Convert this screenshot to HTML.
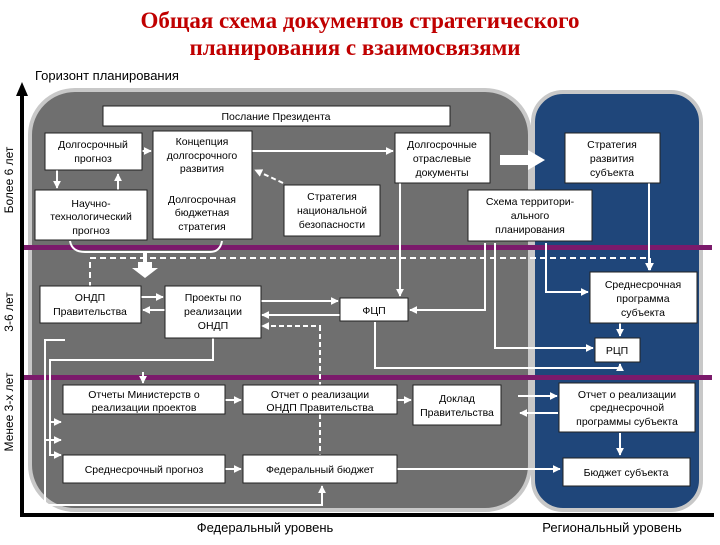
<!DOCTYPE html>
<html><head><meta charset="utf-8"><style>
body{margin:0;background:#fff}
svg text{font-family:"Liberation Sans",sans-serif}
</style></head><body>
<svg width="720" height="540" viewBox="0 0 720 540" xmlns="http://www.w3.org/2000/svg">
<defs>
<marker id="a" viewBox="0 0 10 10" refX="9" refY="5" markerWidth="4" markerHeight="4" orient="auto"><path d="M0,0L10,5L0,10z" fill="#fff"/></marker>
</defs>
<text x="360" y="28" text-anchor="middle" font-family="Liberation Serif,serif" font-weight="bold" font-size="23" fill="#c00000" style="font-family:'Liberation Serif',serif">Общая схема документов стратегического</text>
<text x="355" y="55" text-anchor="middle" font-weight="bold" font-size="23" fill="#c00000" style="font-family:'Liberation Serif',serif">планирования с взаимосвязями</text>
<text x="35" y="80" font-size="13" fill="#000">Горизонт планирования</text>
<!-- panels -->
<rect x="30" y="90" width="500" height="420" rx="45" fill="#6f6f6f" stroke="#c8c8c8" stroke-width="4"/>
<rect x="533" y="92" width="168" height="418" rx="30" fill="#1f467a" stroke="#c8c8c8" stroke-width="4"/>
<!-- purple lines -->
<rect x="22" y="245" width="690" height="5" fill="#7b1a6b"/>
<rect x="22" y="375" width="690" height="5" fill="#7b1a6b"/>
<!-- axes -->
<line x1="22" y1="92" x2="22" y2="516" stroke="#000" stroke-width="4"/>
<path d="M22,82 L16,96 L28,96z" fill="#000"/>
<line x1="20" y1="515" x2="714" y2="515" stroke="#000" stroke-width="4"/>
<text transform="translate(13,180) rotate(-90)" text-anchor="middle" font-size="12">Более 6 лет</text>
<text transform="translate(13,312) rotate(-90)" text-anchor="middle" font-size="12">3-6 лет</text>
<text transform="translate(13,412) rotate(-90)" text-anchor="middle" font-size="12">Менее 3-х лет</text>
<text x="265" y="532" text-anchor="middle" font-size="13">Федеральный уровень</text>
<text x="612" y="532" text-anchor="middle" font-size="13">Региональный уровень</text>
<!-- connectors -->
<g stroke="#fff" stroke-width="2" fill="none">
<path d="M142,151H151" marker-end="url(#a)"/>
<path d="M57,170V188" marker-end="url(#a)"/>
<path d="M118,190V174" marker-end="url(#a)"/>
<path d="M252,151H393" marker-end="url(#a)"/>
<path d="M283,183L255,170" stroke-dasharray="5,3" marker-end="url(#a)"/>
<path d="M70,241Q72,252 85,252H210Q220,252 222,241"/>
<path d="M145,252V262" stroke-width="4"/>
<path d="M90,288V258H650V270" stroke-dasharray="6,4" marker-end="url(#a)"/>
<path d="M141,297H163" marker-end="url(#a)"/>
<path d="M165,310H143" marker-end="url(#a)"/>
<path d="M260,301H338" marker-end="url(#a)"/>
<path d="M350,315H262" marker-end="url(#a)"/>
<path d="M320,330V326H262" stroke-dasharray="5,3" marker-end="url(#a)"/>
<path d="M320,326V460" stroke-dasharray="5,3"/>
<path d="M400,183V296" marker-end="url(#a)"/>
<path d="M485,243V310H410" marker-end="url(#a)"/>
<path d="M495,243V348H593" marker-end="url(#a)"/>
<path d="M546,243V292H588" marker-end="url(#a)"/>
<path d="M649,183V270" marker-end="url(#a)"/>
<path d="M620,323V336" marker-end="url(#a)"/>
<path d="M375,322V368H620V364" marker-end="url(#a)"/>
<path d="M213,338V360H50V455H61" marker-end="url(#a)"/>
<path d="M50,422H61" marker-end="url(#a)"/>
<path d="M65,340H45V440H61" marker-end="url(#a)"/>
<path d="M143,372V383" marker-end="url(#a)"/>
<path d="M225,400H241" marker-end="url(#a)"/>
<path d="M397,400H411" marker-end="url(#a)"/>
<path d="M518,396H557" marker-end="url(#a)"/>
<path d="M558,413H520" marker-end="url(#a)"/>
<path d="M620,433V455" marker-end="url(#a)"/>
<path d="M225,469H241" marker-end="url(#a)"/>
<path d="M397,469H560" marker-end="url(#a)"/>
<path d="M45,440V505H322V486" marker-end="url(#a)"/>
</g>
<path d="M500,155H528V150L545,160L528,170V165H500z" fill="#fff"/>
<path d="M138,262H152V268H158L145,278L132,268H138z" fill="#fff"/>
<!-- boxes -->
<g fill="#fff" stroke="#222" stroke-width="1">
<rect x="103" y="106" width="347" height="20"/>
<rect x="45" y="133" width="97" height="37"/>
<rect x="35" y="190" width="112" height="50"/>
<rect x="153" y="131" width="99" height="108"/>
<rect x="284" y="185" width="96" height="51"/>
<rect x="395" y="133" width="95" height="50"/>
<rect x="565" y="133" width="95" height="50"/>
<rect x="468" y="190" width="124" height="51"/>
<rect x="40" y="286" width="101" height="37"/>
<rect x="165" y="286" width="96" height="52"/>
<rect x="340" y="298" width="68" height="23"/>
<rect x="590" y="272" width="107" height="51"/>
<rect x="595" y="338" width="45" height="24"/>
<rect x="63" y="385" width="162" height="29"/>
<rect x="243" y="385" width="154" height="29"/>
<rect x="413" y="385" width="88" height="40"/>
<rect x="559" y="383" width="136" height="49"/>
<rect x="63" y="455" width="162" height="28"/>
<rect x="243" y="455" width="154" height="28"/>
<rect x="563" y="458" width="127" height="28"/>
</g>
<g font-size="10.5" fill="#000" text-anchor="middle">
<text x="276" y="120">Послание Президента</text>
<text x="93" y="148">Долгосрочный</text><text x="93" y="162">прогноз</text>
<text x="91" y="207">Научно-</text><text x="91" y="220">технологический</text><text x="91" y="234">прогноз</text>
<text x="202" y="145">Концепция</text><text x="202" y="159">долгосрочного</text><text x="202" y="172">развития</text>
<text x="202" y="203">Долгосрочная</text><text x="202" y="216">бюджетная</text><text x="202" y="230">стратегия</text>
<text x="332" y="200">Стратегия</text><text x="332" y="214">национальной</text><text x="332" y="228">безопасности</text>
<text x="442" y="148">Долгосрочные</text><text x="442" y="162">отраслевые</text><text x="442" y="176">документы</text>
<text x="612" y="148">Стратегия</text><text x="612" y="162">развития</text><text x="612" y="176">субъекта</text>
<text x="530" y="205">Схема террито­ри-</text><text x="530" y="219">ального</text><text x="530" y="233">планирования</text>
<text x="90" y="301">ОНДП</text><text x="90" y="315">Правительства</text>
<text x="213" y="301">Проекты по</text><text x="213" y="315">реализации</text><text x="213" y="329">ОНДП</text>
<text x="374" y="314">ФЦП</text>
<text x="643" y="288">Среднесрочная</text><text x="643" y="302">программа</text><text x="643" y="316">субъекта</text>
<text x="617" y="354">РЦП</text>
<text x="144" y="398">Отчеты Министерств о</text><text x="144" y="411">реализации проектов</text>
<text x="320" y="398">Отчет о реализации</text><text x="320" y="411">ОНДП Правительства</text>
<text x="457" y="402">Доклад</text><text x="457" y="416">Правительства</text>
<text x="627" y="398">Отчет о реализации</text><text x="627" y="411">среднесрочной</text><text x="627" y="425">программы субъекта</text>
<text x="144" y="473">Среднесрочный прогноз</text>
<text x="320" y="473">Федеральный бюджет</text>
<text x="626" y="476">Бюджет субъекта</text>
</g>
</svg>
</body></html>
